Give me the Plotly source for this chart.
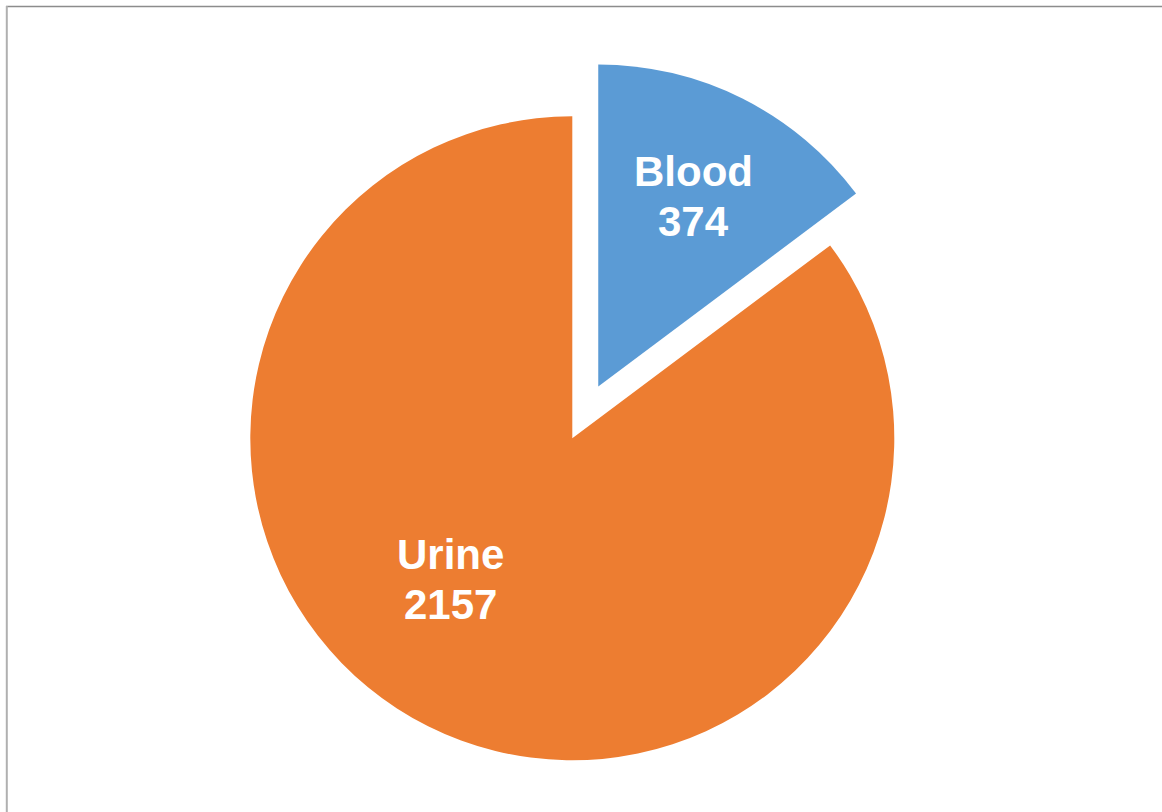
import math
import plotly.graph_objects as go

labels = ["Blood", "Urine"]
values = [374, 2157]
colors = ["#5B9BD5", "#ED7D31"]

W, H = 1162, 812
R = 322                  # pie radius in px
CX, CY = 572.3, 438.3    # urine centre (px from top-left)
PULL = 0.18              # blood pull as fraction of radius
# label placement (angle in degrees clockwise from top, radius fraction)
LABEL_POS = [(None, 0.66), (220.7, 0.58)]
FONT = "Liberation Sans, Arial, sans-serif"
FS = 42

total = sum(values)
starts = []
acc = 0
for v in values:
    starts.append(acc / total * 360)
    acc += v
mids = [starts[i] + values[i] / total * 180 for i in range(len(values))]

BX = CX + PULL * R * math.sin(math.radians(mids[0]))
BY = CY - PULL * R * math.cos(math.radians(mids[0]))
centres = [(BX, BY), (CX, CY)]


def dom(cx, cy):
    return dict(x=[(cx - R) / W, (cx + R) / W],
                y=[1 - (cy + R) / H, 1 - (cy - R) / H])


def trace(show_idx):
    cx, cy = centres[show_idx]
    cols = [c if i == show_idx else "rgba(0,0,0,0)" for i, c in enumerate(colors)]
    return go.Pie(
        labels=labels, values=values, sort=False, direction="clockwise", rotation=0,
        marker=dict(colors=cols, line=dict(width=0)),
        textinfo="none", domain=dom(cx, cy), showlegend=False,
        hoverinfo="label+value",
    )


annotations = []
for i in range(len(labels)):
    ang, frac = LABEL_POS[i]
    if ang is None:
        ang = mids[i]
    cx, cy = centres[i]
    px = cx + frac * R * math.sin(math.radians(ang))
    py = cy - frac * R * math.cos(math.radians(ang))
    for txt, shift in ((labels[i], 25), (str(values[i]), -25)):
        annotations.append(dict(
            x=px / W, y=1 - py / H, xref="paper", yref="paper",
            text=f"<b>{txt}</b>", showarrow=False, xanchor="center", yanchor="middle",
            yshift=shift, font=dict(family=FONT, size=FS, color="white"),
        ))

fig = go.Figure([trace(1), trace(0)])
fig.update_layout(
    width=W, height=H, margin=dict(l=0, r=0, t=0, b=0),
    paper_bgcolor="white", plot_bgcolor="white",
    font=dict(family=FONT),
    annotations=annotations,
    shapes=[
        dict(type="line", xref="paper", yref="paper", x0=6 / W, x1=1, y0=1 - 6.5 / H, y1=1 - 6.5 / H,
             line=dict(color="#8c8c8c", width=1.5)),
        dict(type="line", xref="paper", yref="paper", x0=6.8 / W, x1=6.8 / W, y0=0, y1=1 - 6 / H,
             line=dict(color="#b0b0b0", width=2)),
    ],
)
fig.write_html("out.html", config={"displayModeBar": False},
               post_script="document.body.style.margin='0';document.body.style.overflow='hidden';")
